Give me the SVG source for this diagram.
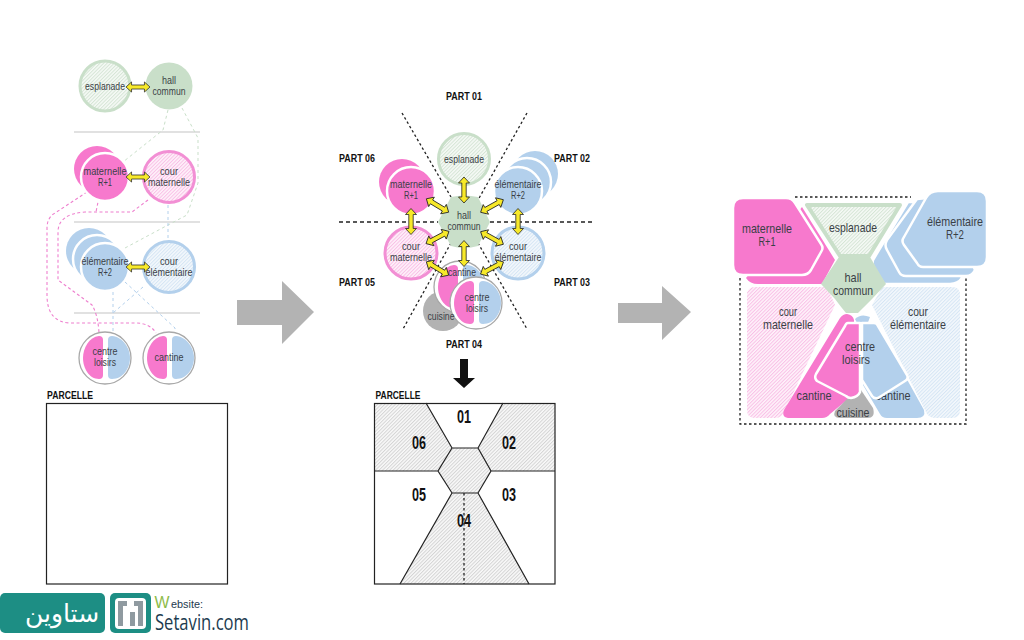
<svg xmlns="http://www.w3.org/2000/svg" width="1024" height="640" viewBox="0 0 1024 640">
<style>
text{font-family:"Liberation Sans",Arial,sans-serif;fill:#3a3f46;text-anchor:middle}
.s{font-size:11px}
.m{font-size:13px}
.b{font-weight:bold;fill:#111;font-size:11.5px}
.n{font-weight:bold;fill:#111;font-size:18px}
.rule{stroke:#c4c4c4;stroke-width:1.2;fill:none}
.blk{stroke:#222;stroke-width:1.2;fill:none}
.dd{stroke:#222;stroke-width:1.3;fill:none;stroke-dasharray:2.5 2.5}
.dg{stroke:#c9dfc9;stroke-width:1;fill:none;stroke-dasharray:3 3}
.dm{stroke:#ee7fce;stroke-width:1.1;fill:none;stroke-dasharray:3 2.5}
.db{stroke:#b3d0ec;stroke-width:1;fill:none;stroke-dasharray:3 3}
.mg{fill:#f779cd}.bl{fill:#b3d0ec}.gr{fill:#c9dfc9}.gy{fill:#b2b2b2}
.wm{fill:#f779cd;stroke:#fff;stroke-width:2.5;stroke-linejoin:round}
.wb{fill:#b3d0ec;stroke:#fff;stroke-width:2.5;stroke-linejoin:round}
.big{fill:#b3b3b3}
</style>
<defs>
<pattern id="hg" width="2.500" height="2.500" patternUnits="userSpaceOnUse" patternTransform="rotate(-45)"><rect width="2.500" height="2.500" fill="#f6faf6"/><rect width="2.500" height="1" fill="#d5e5d5"/></pattern>
<pattern id="hm" width="2.500" height="2.500" patternUnits="userSpaceOnUse" patternTransform="rotate(-45)"><rect width="2.500" height="2.500" fill="#fef3fa"/><rect width="2.500" height="1" fill="#f9bfe6"/></pattern>
<pattern id="hb" width="2.500" height="2.500" patternUnits="userSpaceOnUse" patternTransform="rotate(-45)"><rect width="2.500" height="2.500" fill="#f4f8fc"/><rect width="2.500" height="1" fill="#d5e5f4"/></pattern>
<pattern id="hk" width="2.500" height="2.500" patternUnits="userSpaceOnUse" patternTransform="rotate(-45)"><rect width="2.500" height="2.500" fill="#f9f9f9"/><rect width="2.500" height="1" fill="#d4d4d4"/></pattern>
<path id="arr" d="M-13,0 L-7,-5.500 L-7,-2.200 L7,-2.200 L7,-5.500 L13,0 L7,5.500 L7,2.200 L-7,2.200 L-7,5.500 Z" fill="#f7e92a" stroke="#222" stroke-width="0.8" stroke-linejoin="round"/>
<g id="split">
<circle r="26" fill="#fff" stroke="#a8a8a8" stroke-width="1.3"/>
<path class="mg" d="M-2,-18 Q-2,-22 -6,-22 C-16,-21 -22,-10 -22,0 C-22,10 -16,21 -6,21 Q-2,21 -2,17 Z"/>
<path class="bl" d="M3,-18 Q3,-22 7,-22 C18,-21 25,-10 25,0 C25,10 18,21 7,21 Q3,21 3,17 Z"/>
</g>
</defs>
<rect width="1024" height="640" fill="#fff"/>

<g id="connectors">
<path class="rule" d="M74,132H200M74,222H200M74,313H200"/>
<path class="dg" d="M168,110L163,130L123,162M182,108L198,138V183L187,215L168,225L125,248"/>
<path class="db" d="M168,205V240"/>
<path class="dm" d="M87,192L52,215Q47,220 47,228V295Q47,322 70,323H135Q150,323 156,333"/>
<path class="dm" d="M148,200L132,212H85Q58,214 58,232V280L92,305Q98,315 99,333"/>
<path class="dm" d="M100,192L96,212"/>
<path class="db" d="M113,292V332M143,287L113,313M125,282L175,328V333"/>
</g>

<g id="left-esplanade"><circle cx="105" cy="86" r="25" fill="url(#hg)" stroke="#c9dfc9" stroke-width="3"/><text class="s" x="105" y="90" textLength="40" lengthAdjust="spacingAndGlyphs">esplanade</text></g>
<g id="left-hall"><circle cx="169" cy="86" r="23.5" class="gr"/><text class="s" x="169" y="84" textLength="14" lengthAdjust="spacingAndGlyphs">hall</text><text class="s" x="169" y="95" textLength="33" lengthAdjust="spacingAndGlyphs">commun</text></g>
<g id="left-maternelle"><circle cx="97" cy="169" r="23" class="mg"/><circle cx="105" cy="177" r="24" class="wm"/><text class="s" x="105" y="175" textLength="43" lengthAdjust="spacingAndGlyphs">maternelle</text><text class="s" x="105" y="186" textLength="14" lengthAdjust="spacingAndGlyphs">R+1</text></g>
<g id="left-cour-maternelle"><circle cx="169" cy="177" r="25.5" fill="url(#hm)" stroke="#f28fd4" stroke-width="3"/><text class="s" x="169" y="175" textLength="18" lengthAdjust="spacingAndGlyphs">cour</text><text class="s" x="169" y="186" textLength="42" lengthAdjust="spacingAndGlyphs">maternelle</text></g>
<g id="left-elementaire"><circle cx="89" cy="251" r="23" class="bl"/><circle cx="97" cy="259" r="24" class="wb"/><circle cx="105" cy="267" r="24" class="wb"/><text class="s" x="105" y="265" textLength="47" lengthAdjust="spacingAndGlyphs">élémentaire</text><text class="s" x="105" y="276" textLength="14" lengthAdjust="spacingAndGlyphs">R+2</text></g>
<g id="left-cour-elementaire"><circle cx="169" cy="267" r="25.5" fill="url(#hb)" stroke="#b3d0ec" stroke-width="3"/><text class="s" x="169" y="265" textLength="18" lengthAdjust="spacingAndGlyphs">cour</text><text class="s" x="169" y="276" textLength="47" lengthAdjust="spacingAndGlyphs">élémentaire</text></g>
<g id="left-centre"><use href="#split" transform="translate(105,358)"/><text class="s" x="105" y="355" textLength="25" lengthAdjust="spacingAndGlyphs">centre</text><text class="s" x="105" y="366" textLength="22" lengthAdjust="spacingAndGlyphs">loisirs</text></g>
<g id="left-cantine"><use href="#split" transform="translate(169,358)"/><text class="s" x="169" y="361" textLength="29" lengthAdjust="spacingAndGlyphs">cantine</text></g>
<g id="left-arrows">
<use href="#arr" transform="translate(138,87) scale(.92)"/>
<use href="#arr" transform="translate(138,177) scale(.92)"/>
<use href="#arr" transform="translate(138,267) scale(.92)"/>
</g>
<g id="left-parcelle"><text class="b" x="70" y="399" textLength="46" lengthAdjust="spacingAndGlyphs">PARCELLE</text><rect x="46.500" y="403.500" width="181" height="180.500" class="blk"/></g>

<g id="arrow-1"><path class="big" d="M237,300H282V281L314,312L282,344V325H237Z"/></g>

<g id="mid-lines">
<path class="dd" d="M402,113L451,197M527,113L478,200M451,243L403,329M478,243L527,329"/>
<path class="dd" style="stroke-dasharray:4 3" d="M339,222H438M490,222H592"/>
</g>
<g id="mid-esplanade"><circle cx="464" cy="159" r="25.500" fill="url(#hg)" stroke="#c9dfc9" stroke-width="3"/><text class="s" x="464" y="163" textLength="40" lengthAdjust="spacingAndGlyphs">esplanade</text></g>
<g id="mid-maternelle"><circle cx="402" cy="182" r="23" class="mg"/><circle cx="411" cy="191" r="24" class="wm"/><text class="s" x="411" y="188" textLength="42" lengthAdjust="spacingAndGlyphs">maternelle</text><text class="s" x="411" y="199" textLength="14" lengthAdjust="spacingAndGlyphs">R+1</text></g>
<g id="mid-elementaire"><circle cx="535" cy="174" r="23" class="bl"/><circle cx="527" cy="182" r="24" class="wb"/><circle cx="518" cy="191" r="24" class="wb"/><text class="s" x="518" y="188" textLength="47" lengthAdjust="spacingAndGlyphs">élémentaire</text><text class="s" x="518" y="199" textLength="14" lengthAdjust="spacingAndGlyphs">R+2</text></g>
<g id="mid-cour-maternelle"><circle cx="411" cy="253" r="26" fill="url(#hm)" stroke="#f28fd4" stroke-width="3"/><text class="s" x="411" y="250" textLength="18" lengthAdjust="spacingAndGlyphs">cour</text><text class="s" x="411" y="261" textLength="42" lengthAdjust="spacingAndGlyphs">maternelle</text></g>
<g id="mid-cour-elementaire"><circle cx="518" cy="253" r="26" fill="url(#hb)" stroke="#b3d0ec" stroke-width="3"/><text class="s" x="518" y="250" textLength="18" lengthAdjust="spacingAndGlyphs">cour</text><text class="s" x="518" y="261" textLength="47" lengthAdjust="spacingAndGlyphs">élémentaire</text></g>
<g id="mid-hall"><path class="gr" d="M451,197Q464,194 478,197L490,222L478,246Q464,250 451,246L438,222Z"/><text class="s" x="464" y="219" textLength="14" lengthAdjust="spacingAndGlyphs">hall</text><text class="s" x="464" y="230" textLength="33" lengthAdjust="spacingAndGlyphs">commun</text></g>
<g id="mid-cuisine"><circle cx="443" cy="311" r="20" class="gy"/></g>
<g id="mid-cantine"><use href="#split" transform="translate(460,287)"/><text class="s" x="462" y="276" textLength="28" lengthAdjust="spacingAndGlyphs">cantine</text></g>
<g id="mid-centre"><use href="#split" transform="translate(476,303)"/><text class="s" x="477" y="301" textLength="25" lengthAdjust="spacingAndGlyphs">centre</text><text class="s" x="477" y="312" textLength="22" lengthAdjust="spacingAndGlyphs">loisirs</text><text class="s" x="441" y="320" textLength="27" lengthAdjust="spacingAndGlyphs">cuisine</text></g>
<g id="mid-arrows">
<use href="#arr" transform="translate(464,190) rotate(90)"/>
<use href="#arr" transform="translate(464,253.500) rotate(90)"/>
<use href="#arr" transform="translate(437.500,205.500) rotate(31)"/>
<use href="#arr" transform="translate(492,206) rotate(-29)"/>
<use href="#arr" transform="translate(437.500,237.500) rotate(-28)"/>
<use href="#arr" transform="translate(492,238) rotate(29)"/>
<use href="#arr" transform="translate(411,221.500) rotate(90)"/>
<use href="#arr" transform="translate(518,221.500) rotate(90)"/>
<use href="#arr" transform="translate(437.500,268.500) rotate(31)"/>
<use href="#arr" transform="translate(492,268) rotate(-28)"/>
</g>
<g id="part-labels">
<text class="b" x="464" y="100" textLength="36" lengthAdjust="spacingAndGlyphs">PART 01</text>
<text class="b" x="357" y="162" textLength="36" lengthAdjust="spacingAndGlyphs">PART 06</text>
<text class="b" x="572" y="162" textLength="36" lengthAdjust="spacingAndGlyphs">PART 02</text>
<text class="b" x="357" y="286" textLength="36" lengthAdjust="spacingAndGlyphs">PART 05</text>
<text class="b" x="572" y="286" textLength="36" lengthAdjust="spacingAndGlyphs">PART 03</text>
<text class="b" x="464" y="348" textLength="36" lengthAdjust="spacingAndGlyphs">PART 04</text>
</g>
<g id="down-arrow"><path fill="#111" d="M460,359H468V378H475L464,388L453,378H460Z"/></g>

<g id="mid-parcelle">
<text class="b" x="398" y="399" textLength="45" lengthAdjust="spacingAndGlyphs">PARCELLE</text>
<path fill="url(#hk)" d="M374,403H426L452,448L438,471H374Z"/>
<path fill="url(#hk)" d="M503,403H555V471H491L478,448Z"/>
<path fill="url(#hk)" d="M452,448H478L491,471L478,493H452L438,471Z"/>
<path fill="url(#hk)" d="M452,493H478L529,584H400Z"/>
<rect x="374.500" y="403.500" width="180.500" height="180.500" class="blk"/>
<path class="blk" d="M426,403L452,448H478L503,403M452,448L438,471L452,493H478L491,471L478,448M374,471H438M491,471H555M452,493L400,584M478,493L529,584"/>
<path class="dd" d="M464,493V584"/>
<text class="n" x="464" y="423" textLength="14" lengthAdjust="spacingAndGlyphs">01</text><text class="n" x="419" y="449" textLength="14" lengthAdjust="spacingAndGlyphs">06</text><text class="n" x="509" y="449" textLength="14" lengthAdjust="spacingAndGlyphs">02</text><text class="n" x="419" y="501" textLength="14" lengthAdjust="spacingAndGlyphs">05</text><text class="n" x="509" y="501" textLength="14" lengthAdjust="spacingAndGlyphs">03</text><text class="n" x="464" y="527" textLength="14" lengthAdjust="spacingAndGlyphs">04</text>
</g>

<g id="arrow-2"><path class="big" d="M618,303H662V286L691,312L662,340V323H618Z"/></g>

<g id="plan-frame"><path class="dd" d="M795,197H911M740,278V424H966V278"/></g>
<g id="plan-cour-maternelle"><path fill="url(#hm)" d="M755,287H822Q827,287 829,291L835,305L786,408Q783,418 775,418H755Q747,418 747,410V295Q747,287 755,287Z"/><text class="m" x="788" y="316" textLength="18" lengthAdjust="spacingAndGlyphs">cour</text><text class="m" x="788" y="329" textLength="50" lengthAdjust="spacingAndGlyphs">maternelle</text></g>
<g id="plan-cour-elementaire"><path fill="url(#hb)" d="M885,287H952Q960,287 960,295V410Q960,418 952,418H935Q928,418 925,410L872,305L880,291Q882,287 885,287Z"/><text class="m" x="918" y="316" textLength="20" lengthAdjust="spacingAndGlyphs">cour</text><text class="m" x="918" y="329" textLength="56" lengthAdjust="spacingAndGlyphs">élémentaire</text></g>
<g id="plan-maternelle"><path class="mg" d="M802,207L835,260L822,284H758Q750,284 746,278Z"/><path class="wm" d="M743,198H786Q792,198 795,203L821,244Q824,248 821,252L811,270Q808,275 802,275H743Q733,275 733,265V208Q733,198 743,198Z"/><text class="m" x="767" y="233" textLength="50" lengthAdjust="spacingAndGlyphs">maternelle</text><text class="m" x="767" y="246" textLength="17" lengthAdjust="spacingAndGlyphs">R+1</text></g>
<g id="plan-elementaire"><path class="wb" d="M908,202L873,260Q872,264 874,268L884,284H950Q958,284 962,278L930,202Z"/><path class="wb" d="M917,199L887,240Q884,245 887,250L899,272Q901,276 906,276H966Q972,276 975,270L948,196Z"/><path class="wb" d="M938,191H977Q987,191 987,201V257Q987,267 977,267H923Q919,267 917,263L904,245Q901,241 904,237L926,198Q930,191 938,191Z"/><text class="m" x="955" y="226" textLength="56" lengthAdjust="spacingAndGlyphs">élémentaire</text><text class="m" x="955" y="239" textLength="18" lengthAdjust="spacingAndGlyphs">R+2</text></g>
<g id="plan-esplanade"><path fill="url(#hg)" stroke="#c9dfc9" stroke-width="4" stroke-linejoin="round" d="M807,205H900L869,256H840Z"/><text class="m" x="853" y="232" textLength="48" lengthAdjust="spacingAndGlyphs">esplanade</text></g>
<g id="plan-hall"><path class="gr" d="M839,257H870L886,284L872,299Q864,307 858,313L846,313Q841,307 835,299L821,284Z"/><text class="m" x="853" y="282" textLength="17" lengthAdjust="spacingAndGlyphs">hall</text><text class="m" x="853" y="295" textLength="40" lengthAdjust="spacingAndGlyphs">commun</text></g>
<g id="plan-cantine"><path class="mg" d="M840,318Q843,314 847,314Q853,315 854,320L853,395L830,414Q827,418 822,418H790Q781,418 784,410Z"/><path class="bl" d="M855,319Q861,313 870,317L867,325H858Z"/><path class="bl" d="M863,322H875L924,410Q926,418 917,418H887Q882,418 880,414L863,385Z"/><text class="m" x="814" y="400" textLength="35" lengthAdjust="spacingAndGlyphs">cantine</text><text class="m" x="893" y="400" textLength="35" lengthAdjust="spacingAndGlyphs">cantine</text></g>
<g id="plan-cuisine"><path class="gy" d="M859,387L873,408Q876,418 867,418H840Q832,418 835,411Z"/><text class="m" x="853" y="417" textLength="33" lengthAdjust="spacingAndGlyphs">cuisine</text></g>
<g id="plan-centre"><path class="wm" d="M848,323H860V392Q858,397 851,398Q848,398 846,396L817,381Q814,378 816,374L845,326Q846,323 848,323Z"/><path class="wb" d="M862,323H874Q877,323 878,326L907,375Q909,379 905,381L878,398Q874,399 872,396L862,380Z"/><text class="m" x="860" y="351" textLength="30" lengthAdjust="spacingAndGlyphs">centre</text><text class="m" x="856" y="364" textLength="28" lengthAdjust="spacingAndGlyphs">loisirs</text></g>

<g id="logo">
<rect x="0" y="593" width="105" height="40" rx="5" fill="#1d8e84"/>
<rect x="110" y="593" width="41" height="40" rx="5" fill="#1d8e84"/>
<rect x="115" y="598" width="31" height="31" rx="4" fill="#fff"/>
<path fill="#8f9aa0" d="M118,601H127V606H123V626H118ZM130,612H135V626H130ZM134,601H143V626H138V606H134Z"/>
<text x="62" y="622" font-size="25" style="font-family:'DejaVu Sans',sans-serif;fill:#fff">ستاوين</text>
<text x="162" y="608" font-size="17" style="fill:#8dbb4a" textLength="15" lengthAdjust="spacingAndGlyphs">W</text>
<text x="187" y="608" font-size="10" style="fill:#1d3b4f" textLength="32" lengthAdjust="spacingAndGlyphs">ebsite:</text>
<text x="202" y="630" font-size="21" style="font-family:'Open Sans',sans-serif;fill:#1d3b4f" textLength="94" lengthAdjust="spacingAndGlyphs">Setavin.com</text>
</g>
</svg>
